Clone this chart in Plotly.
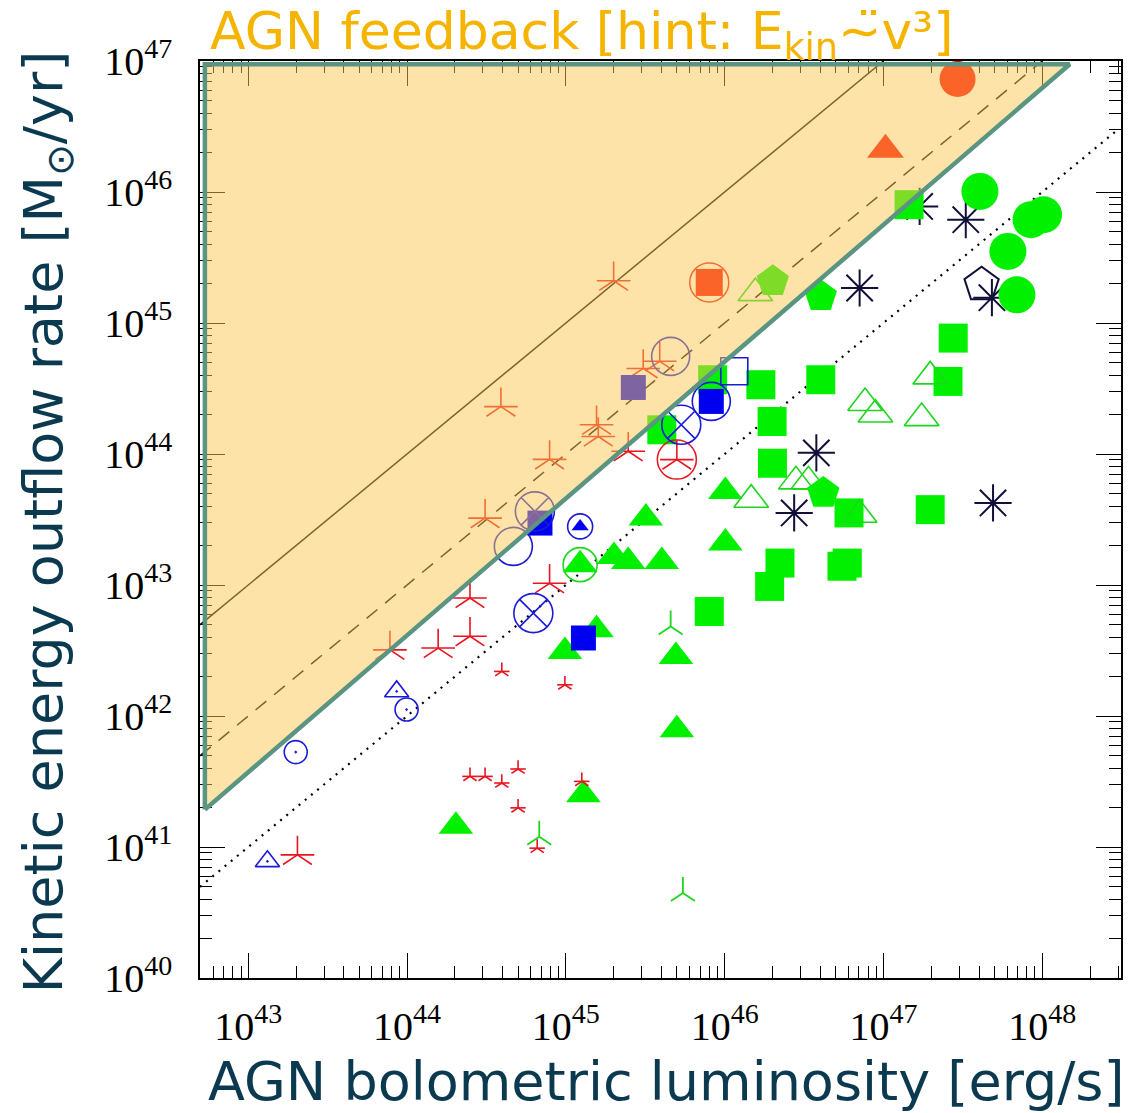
import plotly.graph_objects as go

# ---------------- data (L_bol [erg/s], E_kin outflow rate) ----------------
# red 5-armed asterisks (large)
L_red_star = [2.0e45, 3.9e44, 3.07e45, 3.9e45, 1.56e45, 1.6e45, 7.9e44, 2.47e45, 3.1e44,
              7.9e44, 2.49e44, 2.49e44, 1.57e44, 7.8e43, 2.04e43, 5.0e45]
E_red_star = [2.1e45, 2.3e44, 4.5e44, 5.1e44, 1.67e44, 1.36e44, 9.1e43, 1.05e44, 3.24e43,
              1.03e43, 7.96e42, 4.06e42, 3.3e42, 3.2e42, 8.7e40, 9.06e43]
# red asterisks (small)
L_red_small = [3.95e44, 9.86e44, 2.49e44, 3.1e44, 3.95e44, 5.0e44, 1.26e45, 5.0e44, 6.6e44]
E_red_small = [2.19e42, 1.73e42, 3.46e41, 3.46e41, 3.08e41, 3.94e41, 3.17e41, 1.99e41, 9.8e40]
# red open circles
L_red_ocirc = [5.0e45, 8.0e45]
E_red_ocirc = [9.06e43, 2.04e45]
# red filled circle / triangle / square
L_red_circ = [2.93e47]
E_red_circ = [7.3e46]
L_red_tri = [1.03e47]
E_red_tri = [2.1e46]
L_red_sq = [8.0e45]
E_red_sq = [2.04e45]
# black asterisks
L_blk_star = [1.69e47, 3.3e47, 7.08e46, 4.82e47, 3.78e46, 2.74e46, 4.9e47]
E_blk_star = [7.76e45, 6.15e45, 1.85e45, 1.56e45, 1.02e44, 3.55e43, 4.23e43]
# black open pentagon
L_blk_pent = [4.15e47]
E_blk_pent = [1.96e45]
# green filled circles
L_grn_circ = [4.05e47, 8.5e47, 1.02e48, 6.08e47, 6.93e47]
E_grn_circ = [1.01e46, 6.15e45, 6.7e45, 3.52e45, 1.64e45]
# green filled squares
L_grn_sq = [1.45e47, 2.75e47, 2.55e47, 4.03e46, 1.69e46, 1.99e46, 8.4e45, 4.02e45,
            2.0e46, 6.07e46, 1.97e47, 2.23e46, 1.92e46, 5.92e46, 5.48e46, 8.0e45]
E_grn_sq = [8.0e45, 7.67e44, 3.58e44, 3.69e44, 3.38e44, 1.77e44, 3.69e44, 1.53e44,
            8.5e43, 3.55e43, 3.76e43, 1.47e43, 9.75e42, 1.47e43, 1.39e43, 6.28e42]
# green filled triangles
L_grn_tri = [1.01e46, 3.19e45, 1.01e46, 2.01e45, 2.47e45, 4.02e45, 1.56e45, 9.86e44,
             4.93e45, 5.0e45, 1.29e45, 2.03e44, 1.23e45]
E_grn_tri = [5.18e43, 3.24e43, 2.09e43, 1.65e43, 1.51e43, 1.51e43, 4.56e42, 3.11e42,
             2.85e42, 7.85e41, 2.5e41, 1.44e41, 1.43e43]
# green open triangles
L_grn_otri = [1.56e46, 1.97e47, 7.66e46, 8.9e46, 1.74e47, 2.81e46, 3.37e46, 1.47e46, 7.08e46]
E_grn_otri = [1.69e45, 3.91e44, 2.45e44, 2.0e44, 1.88e44, 6.18e43, 6.18e43, 4.48e43, 3.44e43]
# green filled pentagons
L_grn_pent = [4.03e46, 2.01e46, 4.18e46]
E_grn_pent = [1.6e45, 2.08e45, 5.04e43]
# green three-armed markers
L_grn_y = [4.57e45, 6.8e44, 5.46e45]
E_grn_y = [4.83e42, 1.2e41, 4.46e40]
# green open circle
L_grn_ocirc = [1.23e45]
E_grn_ocirc = [1.43e43]
# blue markers
L_blu_cdot = [9.93e43, 1.99e43]
E_blu_cdot = [1.12e42, 5.3e41]
L_blu_tdot = [8.6e43, 1.32e43]
E_blu_tdot = [1.54e42, 7.77e40]
L_blu_cx = [6.24e44, 5.33e45, 6.38e44]
E_blu_cx = [6.1e42, 1.67e44, 3.65e43]
L_blu_sq = [1.29e45, 6.87e44, 8.24e45, 2.66e45]
E_blu_sq = [3.94e42, 2.97e43, 2.52e44, 3.22e44]
L_blu_ocirc = [8.24e45, 4.57e45, 4.67e44]
E_blu_ocirc = [2.52e44, 5.56e44, 1.97e43]
L_blu_osq = [1.15e46]
E_blu_osq = [4.28e44]
L_blu_ctri = [1.23e45]
E_blu_ctri = [2.8e43]

# reference ratios E_kin / L_bol (solid, dashed, dotted)
ratio_vals = [1.0, 0.1, 0.01]
ratio_dash = ["solid", "14px,10px", "2px,6px"]
ratio_width = [1.5, 1.5, 2.2]

# feedback region (shaded) boundary
poly_L = [5.33e42, 5.33e42, 1.49e48, 5.33e42]
poly_E = [1.93e41, 9.44e46, 9.44e46, 1.93e41]

x_ticks = [1e43, 1e44, 1e45, 1e46, 1e47, 1e48]
x_ticktext = ["10<sup>43</sup>", "10<sup>44</sup>", "10<sup>45</sup>", "10<sup>46</sup>",
              "10<sup>47</sup>", "10<sup>48</sup>"]
y_ticks = [1e40, 1e41, 1e42, 1e43, 1e44, 1e45, 1e46, 1e47]
y_ticktext = ["10<sup>40</sup>", "10<sup>41</sup>", "10<sup>42</sup>", "10<sup>43</sup>",
              "10<sup>44</sup>", "10<sup>45</sup>", "10<sup>46</sup>", "10<sup>47</sup>"]

X_RANGE = [42.696, 48.496]
Y_RANGE = [40.0, 47.0]

RED = "#e8141e"
RED_F = "#fa0000"
BLUE = "#1a1ad8"
BLUE_F = "#0000f0"
GREEN = "#00f000"
GREEN_L = "#1ed61e"
BLACK = "#10103a"

fig = go.Figure()


def add(L, E, symbol, size, color, lw=0.0):
    fig.add_trace(go.Scatter(
        x=L, y=E, mode="markers", hoverinfo="skip", showlegend=False, cliponaxis=False,
        marker=dict(symbol=symbol, size=size, color=color, line=dict(color=color, width=lw))))


def add_star(L, E, size, color, lw):
    add(L, E, "y-up-open", size, color, lw)
    add(L, E, "line-ew-open", size, color, lw)


# reference lines
x_lo = 10 ** X_RANGE[0]
for r, d, w in zip(ratio_vals, ratio_dash, ratio_width):
    x_hi = min(10 ** Y_RANGE[1] / r, 10 ** 48.47)
    fig.add_trace(go.Scatter(x=[x_lo, x_hi], y=[r * x_lo, r * x_hi], mode="lines",
                             line=dict(color="black", width=w, dash=d),
                             hoverinfo="skip", showlegend=False))

# markers
add(L_blk_star, E_blk_star, "asterisk-open", 31, BLACK, 2.0)
add(L_blk_pent, E_blk_pent, "pentagon-open", 36, BLACK, 2.0)
add(L_grn_sq, E_grn_sq, "square", 29, GREEN)
add(L_grn_tri, E_grn_tri, "triangle-up", 30, GREEN)
add(L_grn_otri, E_grn_otri, "triangle-up-open", 30, GREEN_L, 1.6)
add(L_grn_circ, E_grn_circ, "circle", 37, GREEN)
add(L_grn_pent, E_grn_pent, "pentagon", 34, GREEN)
add(L_grn_y, E_grn_y, "y-up-open", 20, GREEN_L, 1.8)
add(L_grn_ocirc, E_grn_ocirc, "circle-open", 34, GREEN_L, 1.6)
add(L_red_circ, E_red_circ, "circle", 36, RED_F)
add(L_red_tri, E_red_tri, "triangle-up", 32, RED_F)
add(L_red_sq, E_red_sq, "square", 27, RED_F)
add(L_red_ocirc, E_red_ocirc, "circle-open", 39, RED, 1.5)
add_star(L_red_star, E_red_star, 24, RED, 1.6)
add_star(L_red_small, E_red_small, 11, RED, 1.6)
add(L_blu_sq, E_blu_sq, "square", 25, BLUE_F)
add(L_blu_osq, E_blu_osq, "square-open", 27, BLUE, 1.6)
add(L_blu_ocirc, E_blu_ocirc, "circle-open", 38, BLUE, 1.6)
add(L_blu_cx, E_blu_cx, "circle-x-open", 39, BLUE, 1.6)
add(L_blu_cdot, E_blu_cdot, "circle-open-dot", 23, BLUE, 1.6)
add(L_blu_tdot, E_blu_tdot, "triangle-up-open-dot", 21, BLUE, 1.6)
add(L_blu_ctri, E_blu_ctri, "circle-open", 25, BLUE, 1.6)
add(L_blu_ctri, E_blu_ctri, "triangle-up", 15, BLUE_F)

# shaded feedback region (semi-transparent, above markers) and its border
fig.add_trace(go.Scatter(x=poly_L, y=poly_E, mode="lines", fill="toself",
                         fillcolor="rgba(251,199,80,0.5)", line=dict(width=0),
                         hoverinfo="skip", showlegend=False))
fig.add_trace(go.Scatter(x=poly_L, y=poly_E, mode="lines",
                         line=dict(color="#5a9482", width=4.5),
                         hoverinfo="skip", showlegend=False))

axis_common = dict(
    type="log", showline=True, linecolor="black", linewidth=1.5, mirror="ticks",
    ticks="inside", ticklen=25, tickwidth=1, tickcolor="black",
    showgrid=False, zeroline=False, layer="below traces",
    tickfont=dict(family="Liberation Serif", size=40, color="black"),
    minor=dict(ticks="inside", ticklen=12, tickwidth=1, tickcolor="black",
               dtick="D1", showgrid=False),
)

fig.update_xaxes(range=X_RANGE, tickmode="array", tickvals=x_ticks, ticktext=x_ticktext,
                 ticklabelstandoff=12, **axis_common)
fig.update_yaxes(range=Y_RANGE, tickmode="array", tickvals=y_ticks, ticktext=y_ticktext,
                 ticklabelstandoff=18, **axis_common)

TITLE_COL = "#0b3a50"
fig.add_annotation(text="AGN bolometric luminosity [erg/s]", xref="paper", yref="paper",
                   x=0.506, y=-0.1134, xanchor="center", yanchor="middle", showarrow=False,
                   font=dict(family="DejaVu Sans", size=54, color=TITLE_COL))
fig.add_annotation(text="Kinetic energy outflow rate [M<sub>⊙</sub>/yr]", xref="paper",
                   yref="paper", x=-0.166, y=0.497, xanchor="center", yanchor="middle",
                   textangle=-90, showarrow=False,
                   font=dict(family="DejaVu Sans", size=54, color=TITLE_COL))
fig.add_annotation(text="AGN feedback [hint: E<sub>kin</sub>∼\u0308v³]",
                   xref="paper", yref="paper", x=0.0087, y=1.0285,
                   xanchor="left", yanchor="middle", showarrow=False,
                   font=dict(family="DejaVu Sans", size=52, color="#f5b400"))

fig.update_layout(width=1148, height=1113, margin=dict(l=200, r=27, t=61, b=135),
                  plot_bgcolor="white", paper_bgcolor="white", showlegend=False)

fig.write_html("out.html")
